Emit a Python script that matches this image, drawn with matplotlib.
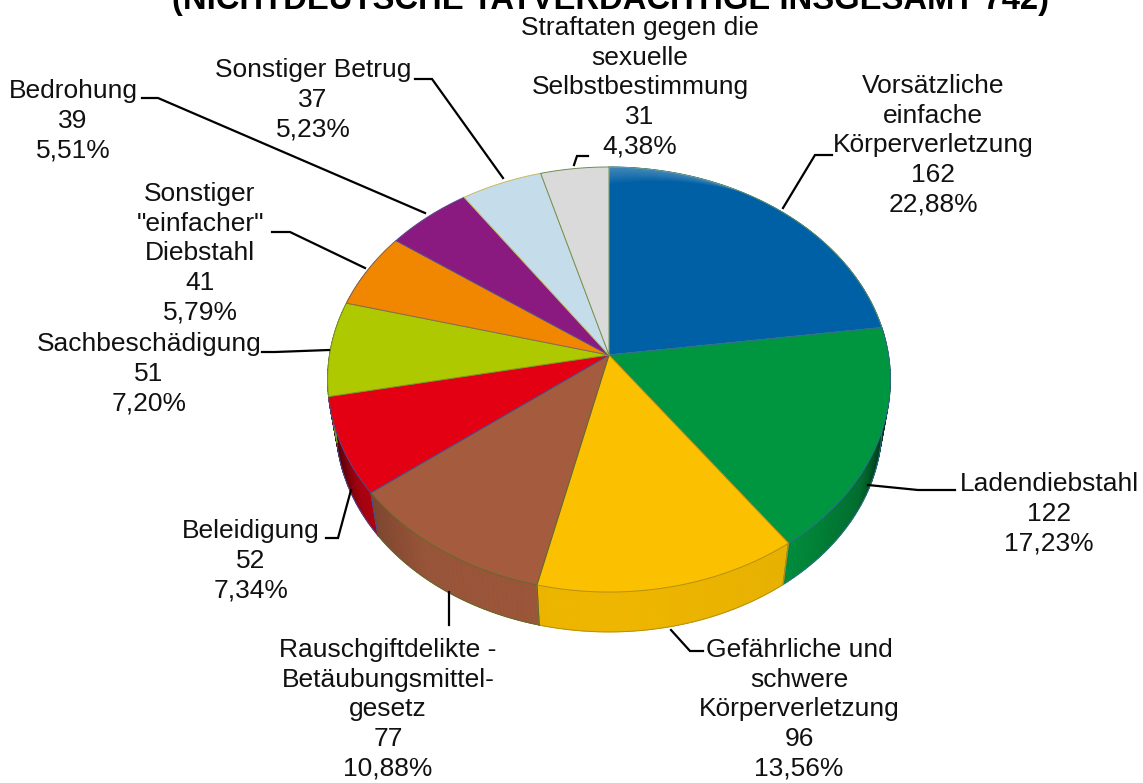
import numpy as np
import matplotlib
matplotlib.use('Agg')
import matplotlib.pyplot as plt
from matplotlib.colors import to_rgb

plt.rcParams['font.family'] = ['Liberation Sans', 'DejaVu Sans']

# Werte aus dem Diagramm
categories = ['Vorsätzliche\neinfache\nKörperverletzung', 'Ladendiebstahl',
              'Gefährliche und\nschwere\nKörperverletzung',
              'Rauschgiftdelikte -\nBetäubungsmittel-\ngesetz', 'Beleidigung',
              'Sachbeschädigung', 'Sonstiger\n"einfacher"\nDiebstahl', 'Bedrohung',
              'Sonstiger Betrug', 'Straftaten gegen die\nsexuelle\nSelbstbestimmung']
values = [162, 122, 96, 77, 52, 51, 41, 39, 37, 31]
percents = ['22,88%', '17,23%', '13,56%', '10,88%', '7,34%', '7,20%', '5,79%', '5,51%', '5,23%', '4,38%']
title = '(NICHTDEUTSCHE TATVERDÄCHTIGE INSGESAMT 742)'

colors = ['#0060A5', '#009640', '#FBC000', '#A55B3D', '#E30013',
          '#AEC900', '#F18700', '#8A1A7F', '#C5DCEB', '#D9DAD9']
edges = ['#5C8F6A', '#2F6F8C', '#B58F10', '#5F6A2A', '#4A4A90',
         '#7F9A20', '#8A6A50', '#5A4A90', '#C9B860', '#6F8F50']

# Position der Beschriftungen (Mitte, erste Zeile oben)
label_pos = [(933, 74), (1049, 472), (799, 638), (388, 638), (251, 519),
             (149, 332), (200, 182), (73, 79), (313, 58), (640, 16)]
leaders = [[(783, 208), (815, 155), (832, 155)],
           [(868, 485), (918, 490), (955, 490)],
           [(671, 630), (690, 651), (703, 651)],
           [(449, 592), (449, 625)],
           [(351, 490), (338, 538), (326, 538)],
           [(329, 350), (275, 352), (262, 352)],
           [(365, 268), (290, 232), (272, 232)],
           [(425, 213), (158, 98), (142, 98)],
           [(503, 178), (432, 79), (415, 79)],
           [(574, 165), (577, 156), (588, 156)]]

cx, cy = 609, 355
rx, ry, k = 279.5, 209.7, 0.1153


def top_xy(a, r=1.0):
    # Perspektive: Winkel im Uhrzeigersinn von oben
    u, v = r * np.sin(a), r * np.cos(a)
    w = 1 + k * v
    return cx + rx * u / w, cy - ry * v / w


def bottom_xy(a):
    x, y = top_xy(a)
    return cx + (x - cx) * 0.97, cy + 47 + (y - cy) * 0.97


def side_shade(a):
    return np.interp(abs(np.sin(a)), [0, 0.6, 0.85, 0.95, 1], [0.95, 0.92, 0.72, 0.4, 0.2])


fig = plt.figure(figsize=(11.43, 7.83), dpi=100)
ax = fig.add_axes([0, 0, 1, 1])
ax.set_xlim(0, 1143)
ax.set_ylim(783, 0)
ax.axis('off')

bounds = np.cumsum([0] + values) / sum(values) * 2 * np.pi

# Seitenflächen
for i in range(len(values)):
    a0, a1 = bounds[i], bounds[i + 1]
    if np.cos(a0) > 0.3 and np.cos(a1) > 0.3:
        continue
    t = np.linspace(a0, a1, int((a1 - a0) * 60) + 2)
    base = np.array(to_rgb(colors[i]))
    for s0, s1 in zip(t[:-1], t[1:]):
        xa, ya = top_xy(np.array([s0, s1]))
        xb, yb = bottom_xy(np.array([s1, s0]))
        c = base * side_shade((s0 + s1) / 2)
        ax.fill(np.r_[xa, xb], np.r_[ya, yb], color=c, lw=0.6, zorder=1)
    # Kante unten und Trennlinie
    xb, yb = bottom_xy(t)
    ax.plot(xb, yb, color=edges[i], lw=0.7, zorder=1.5)
    for a in (a0, a1):
        if np.cos(a) < 0.1:
            xa, ya = top_xy(a)
            xe, ye = bottom_xy(a)
            ax.plot([xa, xe], [ya, ye], color=edges[i], lw=0.8, zorder=1.5)

# Deckfläche
for i in range(len(values)):
    t = np.linspace(bounds[i], bounds[i + 1], 200)
    x, y = top_xy(t)
    ax.fill(np.r_[cx, x], np.r_[cy, y], facecolor=colors[i], edgecolor=edges[i], lw=0.7, zorder=2)

# heller Rand oben am ersten Segment, läuft nach rechts aus
for r in np.linspace(0.9, 0.995, 10):
    t = np.linspace(bounds[0], bounds[0] + 0.55, 40)
    taper = 1 - (t - t[0]) / (t[-1] - t[0])
    xo, yo = top_xy(t)
    xi, yi = top_xy(t, 1 - (1 - r) * taper)
    ax.fill(np.r_[xo, xi[::-1]], np.r_[yo, yi[::-1]], color='white', alpha=0.03, lw=0, zorder=2.2)

# Beschriftungen
for name, val, pct, pos, line in zip(categories, values, percents, label_pos, leaders):
    ax.text(pos[0], pos[1], f'{name}\n{val}\n{pct}', ha='center', va='top', fontsize=19,
            linespacing=1.29, color='#111111', zorder=4)
    ax.plot(*zip(*line), color='black', lw=1.6, zorder=3, solid_joinstyle='miter')

ax.text(611, 9, title, ha='center', va='baseline', fontsize=23.6, fontweight='bold', color='black')

fig.savefig('out.png', dpi=100)
